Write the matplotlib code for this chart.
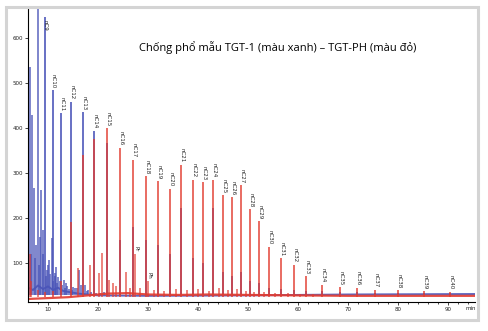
import numpy as np
import matplotlib.pyplot as plt
from matplotlib.patches import Rectangle

# n-alkane retention times (min) and peak heights
carbons = list(range(9, 41))
rt = [9.3, 10.9, 12.7, 14.6, 17.0, 19.2, 21.9, 24.5, 27.1, 29.6, 32.1, 34.5,
      36.7, 39.0, 41.1, 43.1, 45.1, 46.9, 48.7, 50.4, 52.3, 54.3, 56.7, 59.2,
      61.7, 64.9, 68.4, 71.9, 75.5, 80.1, 85.2, 90.5]
blue_nc = [645, 484, 433, 458, 435, 394, 367, 150, 180, 150, 140, 120,
           222, 110, 100, 222, 80, 70, 80, 60, 55, 45, 42, 40,
           38, 37, 36, 35, 34, 34, 33, 33]
red_nc = [35, 38, 60, 190, 340, 375, 400, 356, 329, 293, 281, 265,
          318, 285, 280, 285, 250, 246, 272, 220, 193, 136, 111, 96,
          71, 52, 46, 45, 41, 40, 38, 36]

# other peaks (TGT-1, blue)
blue_t = [6.3, 6.7, 7.1, 7.9, 8.3, 8.6, 8.9, 9.7, 10.2, 10.7, 11.3, 11.7,
          12.1, 13.2, 13.7, 15.1, 15.9, 16.3, 17.4, 18.1,
          6.5, 7.4, 7.6, 8.1, 9.0, 9.5, 9.9, 10.4, 11.0, 11.5, 11.9, 12.4,
          12.9, 13.5, 13.9, 14.3, 14.9, 15.4, 16.6, 17.8, 18.6, 19.6, 20.5, 21.3]
blue_h = [536, 429, 267, 700, 158, 262, 173, 84, 107, 155, 77, 91,
          69, 62, 55, 47, 44, 84, 50, 40,
          120, 110, 140, 95, 120, 70, 95, 75, 60, 70, 55, 60,
          52, 45, 48, 42, 40, 45, 50, 38, 35, 34, 33, 36]

# other peaks (TGT-PH, red)
red_t = [6.3, 6.6, 7.9, 16.0, 18.4, 20.2, 20.9, 22.2, 23.0, 23.6, 25.7, 26.4,
         27.4, 28.5, 30.0, 31.2, 33.3, 35.6, 37.8, 40.1, 42.2, 44.2, 46.0,
         47.8, 49.6, 51.3, 53.2, 55.5, 58.0, 60.5, 63.0]
red_h = [120, 60, 40, 89, 96, 78, 122, 62, 55, 48, 80, 45,
         120, 44, 60, 40, 38, 42, 40, 42, 38, 45, 40,
         42, 38, 36, 35, 34, 33, 32, 32]

# baselines
blue_base_t = [6.0, 7, 8, 9, 10, 11, 12, 13, 14, 15, 16, 18, 20, 30, 50, 70, 95.4]
blue_base_v = [45, 40, 50, 42, 48, 40, 45, 38, 36, 34, 32, 30, 28, 27, 28, 30, 31]
red_base_t = [6.0, 8, 10, 14, 18, 22, 26, 30, 36, 42, 50, 60, 70, 80, 95.4]
red_base_v = [20, 21, 22, 24, 28, 32, 33, 30, 29, 30, 29, 28, 27, 27, 27]

blue = "#4a54b8"
red = "#e23b2f"

fig = plt.figure(figsize=(4.88, 3.31), dpi=100)
fig.patches.append(Rectangle((0.0123, 0.033), 0.9672, 0.946, transform=fig.transFigure,
                             fill=False, edgecolor="#d4d4d4", linewidth=2.2))
ax = fig.add_axes([0.0574, 0.0876, 0.9156, 0.8854])

ax.plot(blue_base_t, blue_base_v, color=blue, lw=1.4, alpha=0.9)
ax.vlines(blue_t, 28, blue_h, color=blue, lw=1.1, alpha=0.9)
ax.vlines(rt, 28, blue_nc, color=blue, lw=1.3, alpha=0.9)

ax.plot(red_base_t, red_base_v, color=red, lw=1.6, alpha=0.9)
ax.vlines(red_t, 24, red_h, color=red, lw=1.1, alpha=0.8)
ax.vlines(rt, 24, red_nc, color=red, lw=1.4, alpha=0.75)

for c, t, b, r in zip(carbons, rt, blue_nc, red_nc):
    ax.annotate(f"nC{c}", (t, min(max(b, r), 612)), xytext=(0.5, 1.5),
                textcoords="offset points", rotation=-90, ha="center", va="bottom",
                fontsize=4, color="#222222")

ax.annotate("Pr", (27.4, 120), xytext=(0.5, 1.5), textcoords="offset points",
            rotation=-90, ha="center", va="bottom", fontsize=4, color="#222222")
ax.annotate("Ph", (30.0, 60), xytext=(0.5, 1.5), textcoords="offset points",
            rotation=-90, ha="center", va="bottom", fontsize=4, color="#222222")

ax.set_xlim(6.0, 95.4)
ax.set_ylim(13.3, 664)
ax.set_xticks(range(10, 100, 10))
ax.set_xticks(range(8, 96, 2), minor=True)
ax.set_yticks(range(100, 700, 100))
ax.tick_params(labelsize=4, length=2, width=0.6, pad=1.5, colors="#222222")
ax.tick_params(which="minor", length=1.5, width=0.5)
ax.annotate("min", (1, 0), xytext=(-3, -5), xycoords="axes fraction",
            textcoords="offset points", ha="center", va="center", fontsize=4,
            color="#222222")
for s in ["top", "right"]:
    ax.spines[s].set_visible(False)
for s in ["left", "bottom"]:
    ax.spines[s].set_linewidth(0.8)

fig.text(0.57, 0.855, "Chống phổ mẫu TGT-1 (màu xanh) – TGT-PH (màu đỏ)",
         ha="center", va="center", fontsize=8, family="Open Sans")

fig.savefig("out.png", dpi=100)
